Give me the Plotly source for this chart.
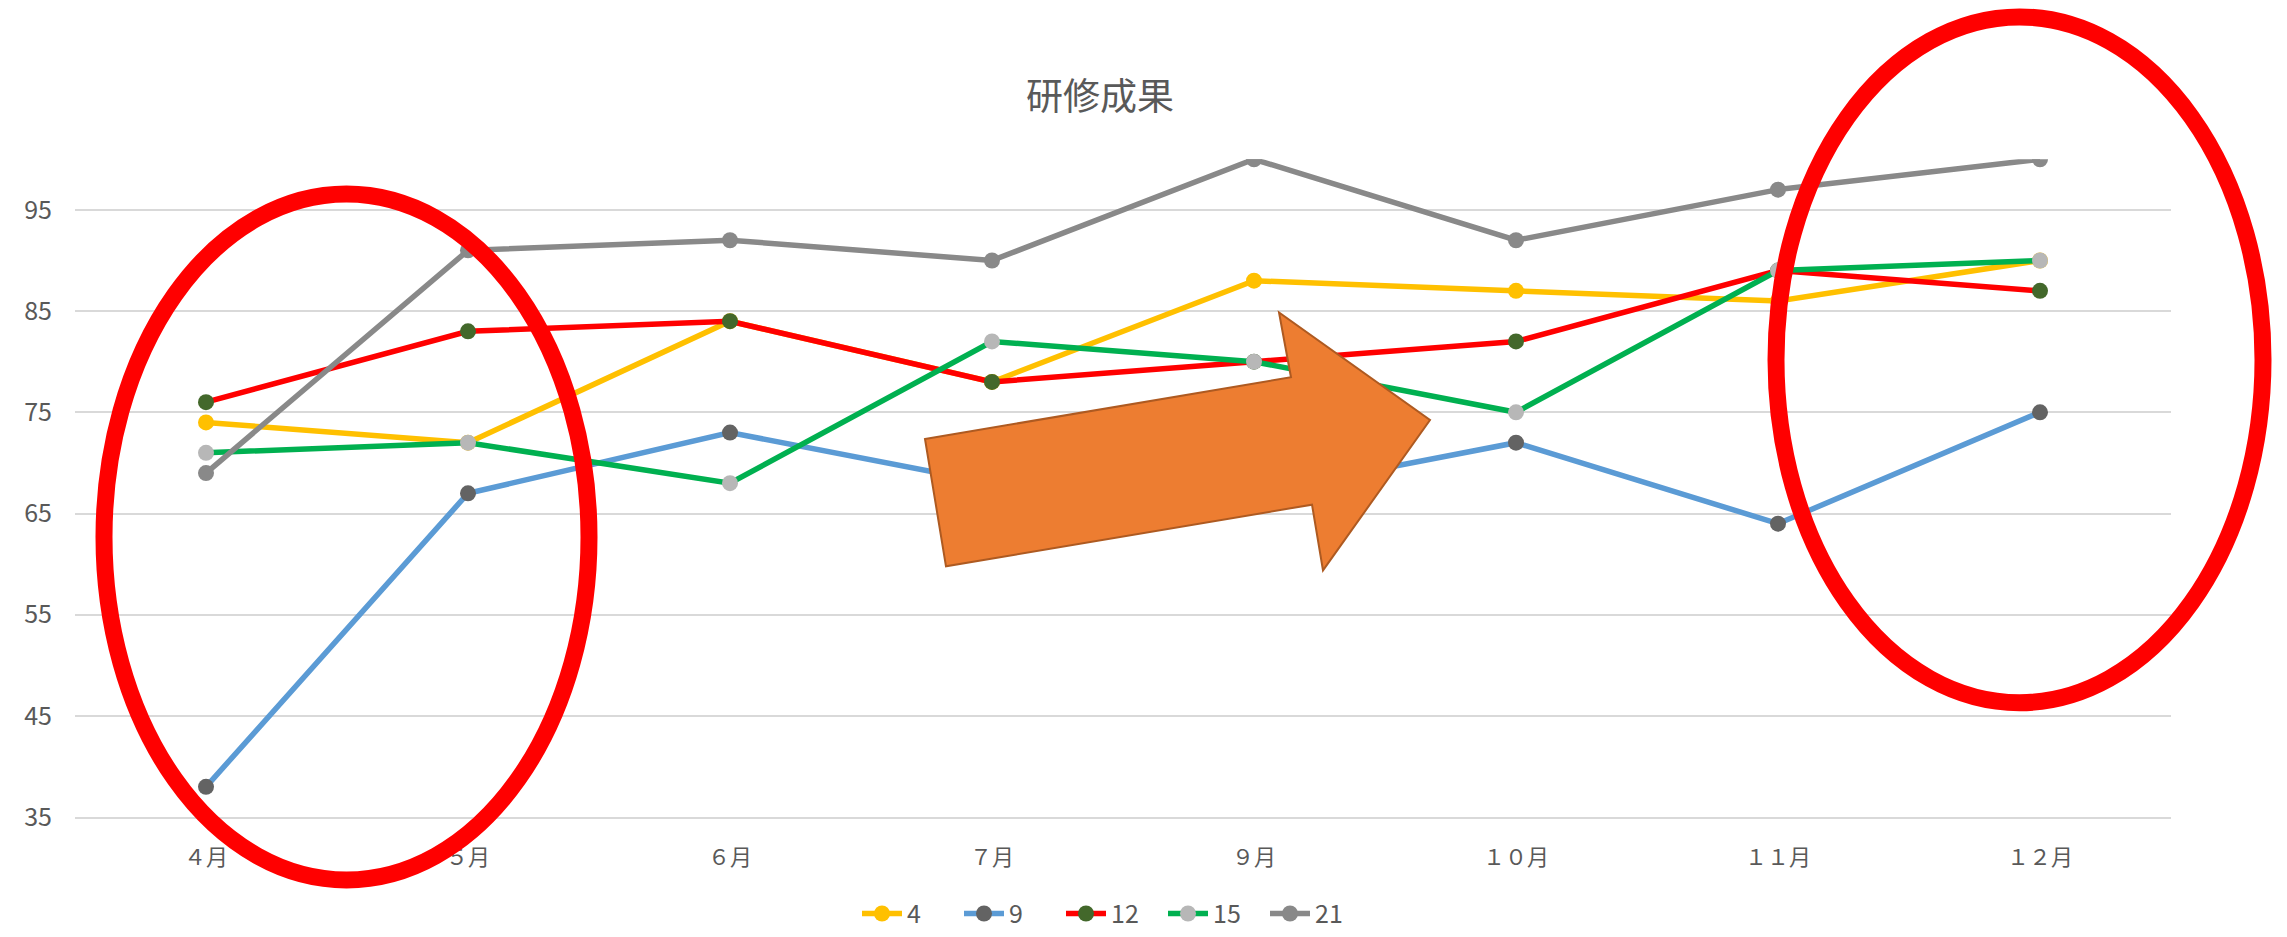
import plotly.graph_objects as go

W, H = 2287, 937

months = ["４月", "５月", "６月", "７月", "９月", "１０月", "１１月", "１２月"]
series_names = ["4", "9", "12", "15", "21"]
s4 = [74, 72, 84, 78, 88, 87, 86, 90]
s9 = [38, 67, 73, 68, 67, 72, 64, 75]
s12 = [76, 83, 84, 78, 80, 82, 89, 87]
s15 = [71, 72, 68, 82, 80, 75, 89, 90]
s21 = [69, 91, 92, 90, 100, 92, 97, 100]
line_colors = ["#FFC000", "#5B9BD5", "#FF0000", "#00B050", "#898989"]
marker_colors = ["#FFC000", "#636363", "#43682B", "#B7B7B7", "#898989"]
values = [s4, s9, s12, s15, s21]

fig = go.Figure()
for name, vals, lc, mc in zip(series_names, values, line_colors, marker_colors):
    fig.add_trace(go.Scatter(
        x=months, y=vals, name=name, mode="lines+markers",
        line=dict(color=lc, width=5.5),
        marker=dict(color=mc, size=16, line=dict(width=0)),
    ))


def fy(y):
    # vertical pixel position in the picture -> paper fraction
    return 1 - ((y - 1) / 0.98) / H


def path(points):
    parts = []
    for i, (x, y) in enumerate(points):
        parts.append(("M" if i == 0 else "L") + f"{x / W:.5f},{fy(y):.5f}")
    return " ".join(parts) + " Z"


arrow_pts = [(925, 442), (1291, 380), (1279, 315), (1430, 423),
             (1323, 574), (1312, 508), (946, 570)]

shapes = [
    dict(type="circle", xref="paper", yref="paper",
         x0=104 / W, x1=589 / W, y0=fy(885), y1=fy(196),
         line=dict(color="#FF0000", width=17), layer="above"),
    dict(type="circle", xref="paper", yref="paper",
         x0=1776 / W, x1=2263 / W, y0=fy(707), y1=fy(18),
         line=dict(color="#FF0000", width=17), layer="above"),
    dict(type="path", xref="paper", yref="paper", path=path(arrow_pts),
         fillcolor="#ED7D31", line=dict(color="#AE5A21", width=2), layer="above"),
]

font_family = "Noto Sans CJK JP"
fig.update_layout(
    width=W, height=H,
    margin=dict(l=0, r=0, t=0, b=0),
    paper_bgcolor="white", plot_bgcolor="white",
    font=dict(family=font_family, color="#595959"),
    title=dict(text="研修成果", x=1100 / W, xanchor="center",
               y=fy(96), yanchor="middle",
               font=dict(size=37, color="#595959", family=font_family)),
    xaxis=dict(domain=[75 / W, 2171 / W], range=[-0.5, 7.5],
               showgrid=False, showline=True, linecolor="#D9D9D9", linewidth=1.5,
               zeroline=False, ticks="", ticklabelstandoff=20,
               tickfont=dict(size=22, color="#595959", family=font_family)),
    yaxis=dict(domain=[fy(822), fy(161)], range=[35, 100],
               tick0=35, dtick=10, showgrid=True, gridcolor="#D9D9D9", gridwidth=1.5,
               zeroline=False, showline=False, ticks="", ticklabelstandoff=22,
               tickfont=dict(size=25, color="#595959", family=font_family)),
    legend=dict(orientation="h", x=1112 / W, xanchor="center",
                y=fy(919), yanchor="middle",
                font=dict(size=25, color="#595959", family=font_family),
                entrywidth=47, entrywidthmode="pixels", itemwidth=40),
    shapes=shapes,
    showlegend=True,
)

post = (
    "document.documentElement.style.margin='0';"
    "document.body.style.margin='0';"
)
fig.write_html("out.html", post_script=post,
               config={"displayModeBar": False})
